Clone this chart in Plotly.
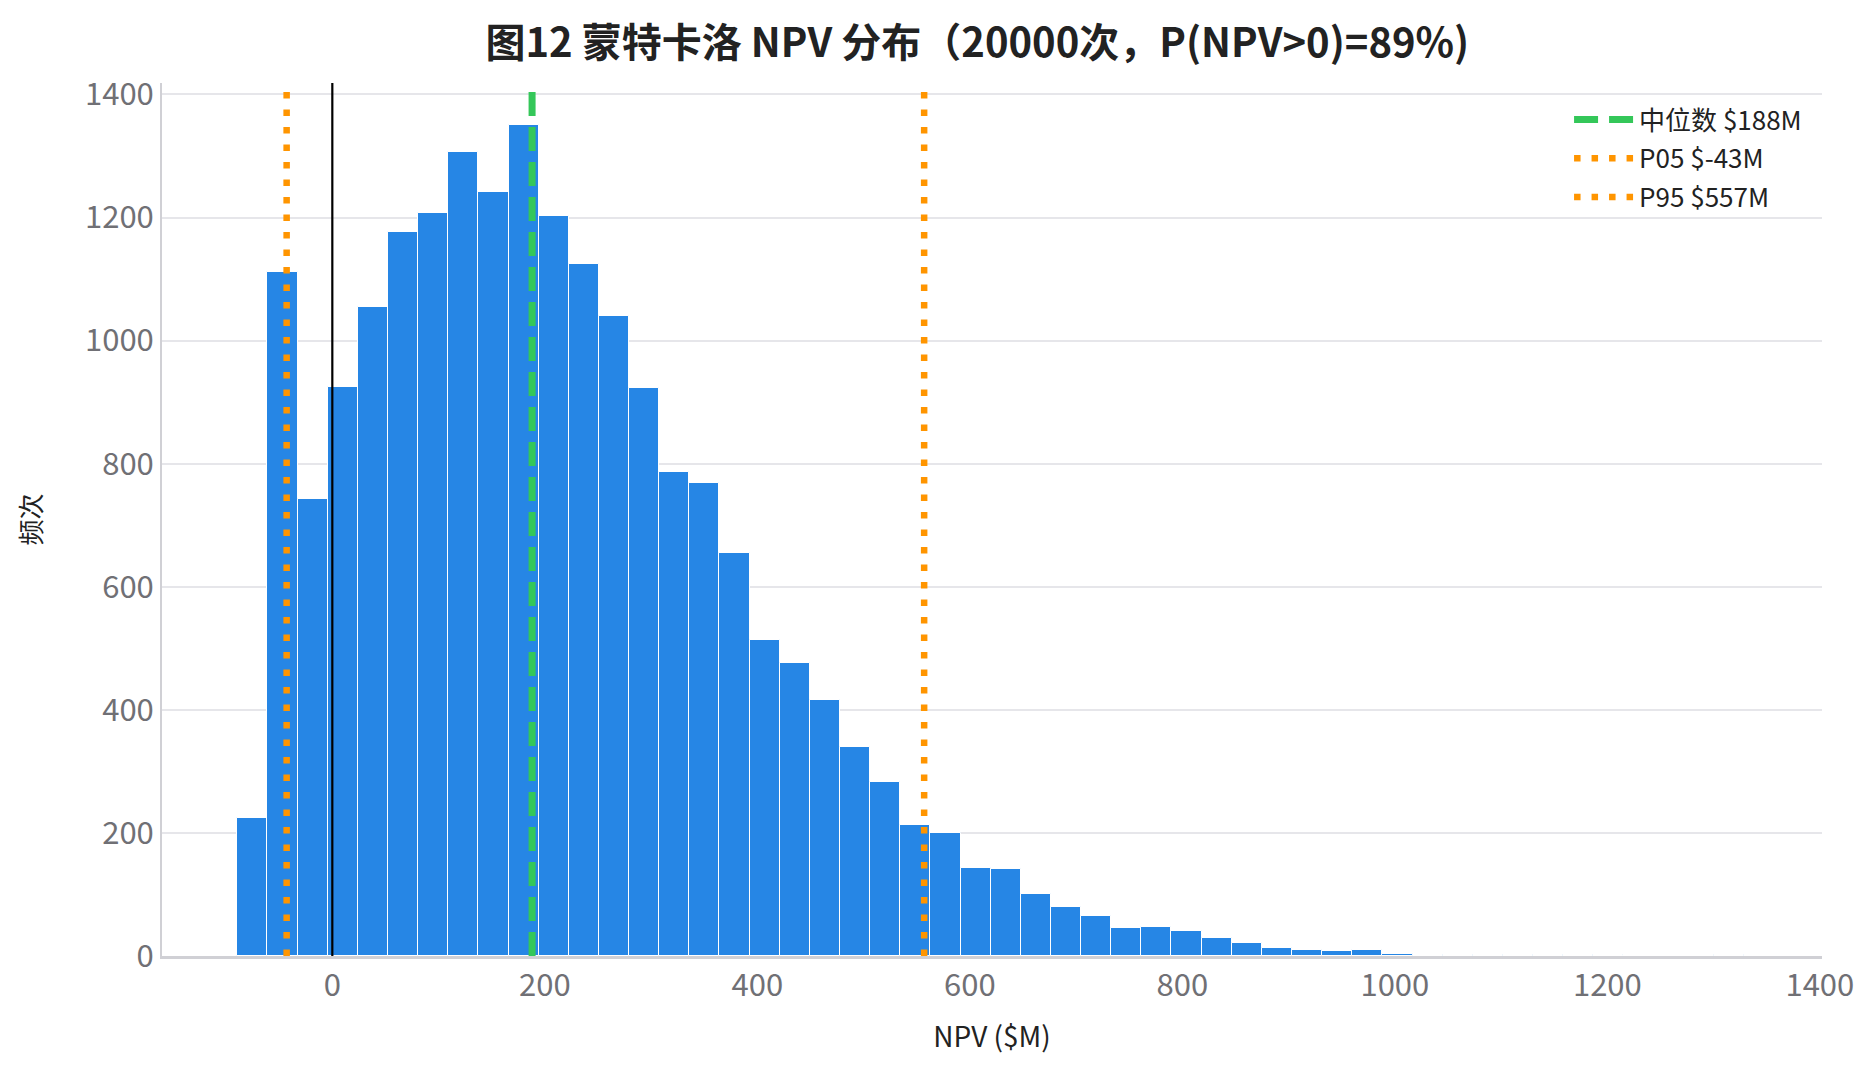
import numpy as np
import plotly.graph_objects as go

# histogram of 20000 NPV draws, 50 bins
bin_start = -89.4
bin_width = 28.36
counts = [224, 1112, 743, 924, 1054, 1177, 1207, 1307, 1242, 1351,
          1202, 1125, 1040, 923, 786, 768, 655, 513, 476, 416,
          339, 282, 213, 200, 143, 142, 100, 80, 65, 46,
          47, 41, 29, 21, 13, 10, 8, 10, 4, 2,
          1, 1, 1, 1, 1, 1, 0, 0, 0, 1]

median_npv = 188
p05 = -43
p95 = 557

x_ticks = [0, 200, 400, 600, 800, 1000, 1200, 1400]
y_ticks = [0, 200, 400, 600, 800, 1000, 1200, 1400]

FONT = "Noto Sans CJK SC"
BLUE = "#2686e5"
GREEN = "#34c759"
ORANGE = "#ff9500"

centers = bin_start + bin_width * (np.arange(len(counts)) + 0.5)
ytop = max(counts) * 1.05

fig = go.Figure()
fig.add_trace(go.Bar(
    x=centers, y=counts, width=bin_width,
    marker=dict(color=BLUE, line=dict(color="white", width=1)),
    showlegend=False, hoverinfo="skip"))

# zero line (no legend)
fig.add_trace(go.Scatter(x=[0, 0], y=[0, ytop], mode="lines",
                         line=dict(color="black", width=2.2),
                         showlegend=False, hoverinfo="skip"))
fig.add_trace(go.Scatter(x=[median_npv, median_npv], y=[0, ytop], mode="lines",
                         line=dict(color=GREEN, width=7, dash="24px,11px"),
                         name=f"中位数 ${median_npv}M", legendgroup="a"))
fig.add_trace(go.Scatter(x=[p05, p05], y=[0, ytop], mode="lines",
                         line=dict(color=ORANGE, width=6.5, dash="6.5px,11px"),
                         name=f"P05 ${p05}M", legendgroup="b"))
fig.add_trace(go.Scatter(x=[p95, p95], y=[0, ytop], mode="lines",
                         line=dict(color=ORANGE, width=6.5, dash="6.5px,11px"),
                         name=f"P95 ${p95}M", legendgroup="c"))

# page body has an 8px margin, so the figure is 16px smaller than the window
fig.update_layout(
    width=1857, height=1059,
    autosize=False,
    margin=dict(l=154, r=43, t=75, b=111),
    paper_bgcolor="white", plot_bgcolor="white",
    font=dict(family=FONT, color="#222222"),
    title=dict(text="<b>图12 蒙特卡洛 NPV 分布（20000次，P(NPV>0)=89%)</b>",
               x=0.522, xanchor="center", y=0.967, yanchor="middle",
               font=dict(family=FONT, size=40, color="#222222")),
    bargap=0,
    legend=dict(x=0.991, xanchor="right", y=0.985, yanchor="top",
                bgcolor="rgba(255,255,255,0)", borderwidth=0,
                font=dict(family=FONT, size=26, color="#222222"),
                tracegroupgap=2, itemwidth=60),
    xaxis=dict(range=[-160.3, 1402], tickvals=x_ticks, showgrid=False,
               zeroline=False, showline=True, linecolor="#d0d0d5", linewidth=2.5,
               ticks="", automargin=False,
               tickfont=dict(family=FONT, size=31, color="#707075"),
               title=dict(text="NPV ($M)", standoff=24,
                          font=dict(family=FONT, size=28, color="#222222"))),
    yaxis=dict(range=[0, ytop], tickvals=y_ticks, showgrid=True,
               gridcolor="#e6e6ea", gridwidth=2, zeroline=False,
               showline=True, linecolor="#d0d0d5", linewidth=2,
               ticks="", automargin=False,
               tickfont=dict(family=FONT, size=31, color="#707075"),
               title=dict(text="频次", standoff=36,
                          font=dict(family=FONT, size=26, color="#222222"))),
)

fig.write_html("out.html")
